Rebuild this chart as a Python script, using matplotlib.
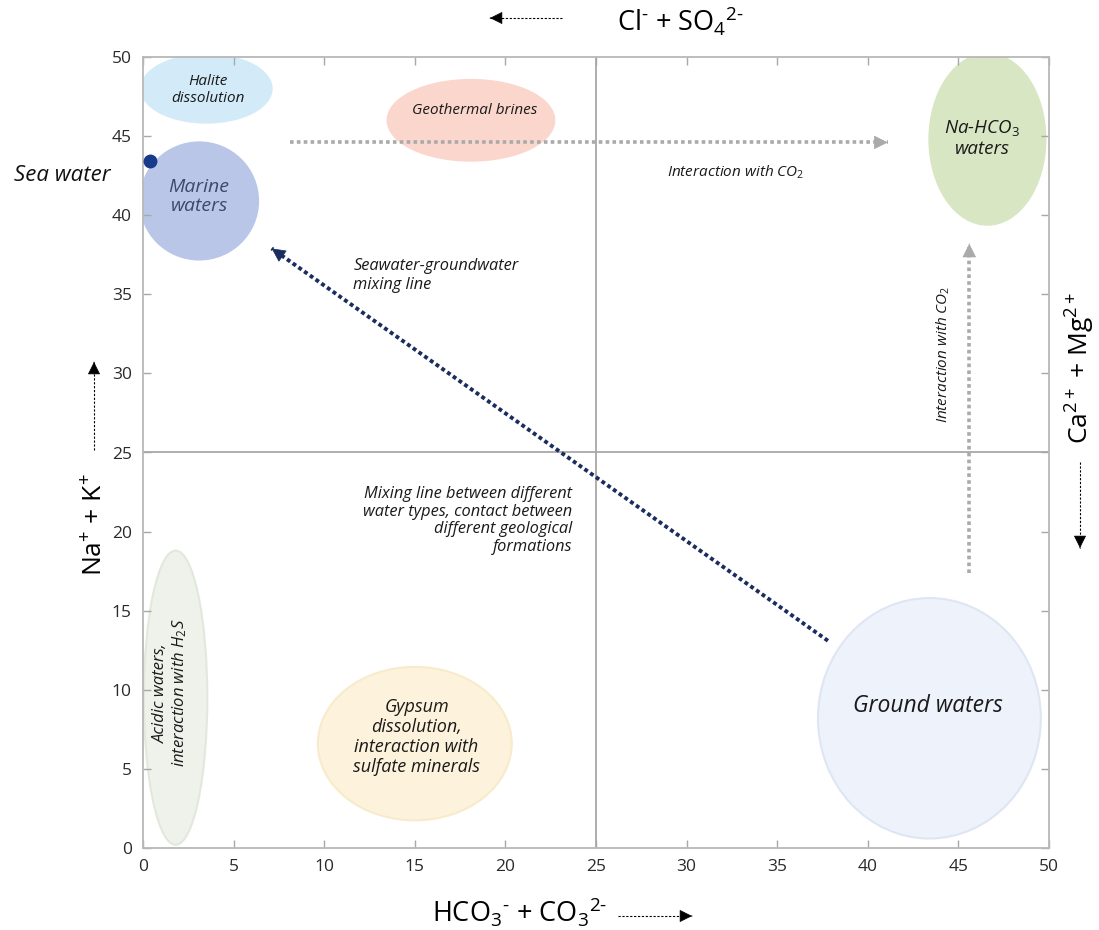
import matplotlib
matplotlib.use("Agg")
import matplotlib.pyplot as plt
from matplotlib.patches import Ellipse
from matplotlib.lines import Line2D

plt.rcParams['font.family'] = ['Open Sans', 'DejaVu Sans']
plt.rcParams['mathtext.fontset'] = 'custom'
plt.rcParams['mathtext.rm'] = 'Open Sans'
plt.rcParams['mathtext.it'] = 'Open Sans:italic'

W, H = 1099, 930

# water-type fields: centre (x, y), width, height
field_names = ["halite", "marine", "geothermal", "nahco3", "ground", "gypsum", "acidic"]
field_x = [3.5, 3.1, 18.1, 46.6, 43.4, 15.0, 1.8]
field_y = [48.0, 40.9, 46.0, 44.8, 8.2, 6.6, 9.5]
field_w = [7.2, 6.5, 9.2, 6.4, 12.3, 10.7, 3.5]
field_h = [4.3, 7.4, 5.1, 10.8, 15.2, 9.7, 18.6]
field_colors = ["#d3eaf8", "#b9c6e8", "#fad6cc", "#d8e6c3", "#edf2fb", "#fdf2dc", "#eef2ea"]
field_edges = ["#d3eaf8", "#b9c6e8", "#fad6cc", "#d8e6c3", "#dfe6f3", "#f8ebcc", "#e3e8dd"]

# sea water end-member
sea_x, sea_y = 0.4, 43.4

# trend arrows: (x0, x1), (y0, y1)
co2_h = ([8.1, 41.1], [44.6, 44.6])
co2_v = ([45.6, 45.6], [17.4, 38.2])
mixing = ([37.8, 7.1], [13.1, 37.9])

ticks = [0, 5, 10, 15, 20, 25, 30, 35, 40, 45, 50]


def dotted_arrow(ax, xs, ys, color, lw, dash, fig_coords=False, hl=0.9, hw=0.45):
    # shaft drawn with a dash pattern, head drawn as a separate solid wedge
    if fig_coords:
        xs = [v / W for v in xs]
        ys = [v / H for v in ys]
        trans, coords = ax.figure.transFigure, 'figure fraction'
        ax.figure.add_artist(Line2D(xs, ys, transform=trans, color=color, lw=lw, linestyle=dash))
    else:
        coords = 'data'
        ax.plot(xs, ys, color=color, lw=lw, linestyle=dash, zorder=3)
    tx = xs[1] - (xs[1] - xs[0]) * 0.001
    ty = ys[1] - (ys[1] - ys[0]) * 0.001
    ax.annotate('', xy=(xs[1], ys[1]), xytext=(tx, ty),
                xycoords=coords, textcoords=coords, annotation_clip=False,
                arrowprops=dict(arrowstyle=f'-|>,head_length={hl},head_width={hw}',
                                lw=0.5, color=color, shrinkA=0, shrinkB=0))


fig = plt.figure(figsize=(W / 100, H / 100), dpi=100)
ax = fig.add_axes([143 / W, 82 / H, 906 / W, 791 / H])

for x, y, w, h, fc, ec in zip(field_x, field_y, field_w, field_h, field_colors, field_edges):
    ax.add_patch(Ellipse((x, y), w, h, facecolor=fc, edgecolor=ec, lw=1.5, zorder=1))

ax.axvline(25, color='#a8a8a8', lw=1.3, zorder=0.5)
ax.axhline(25, color='#a8a8a8', lw=1.3, zorder=0.5)

ax.plot([sea_x], [sea_y], 'o', color='#173a8c', ms=9, zorder=5, clip_on=False)

dotted_arrow(ax, *co2_h, color='#aaaaaa', lw=2.6, dash=(0, (1, 0.9)))
dotted_arrow(ax, *co2_v, color='#aaaaaa', lw=2.6, dash=(0, (1, 0.9)))
dotted_arrow(ax, *mixing, color='#1b2d5e', lw=2.8, dash=(0, (1, 0.8)))

it = dict(style='italic', color='#1a1a1a')
ax.text(3.6, 47.9, "Halite\ndissolution", ha='center', va='center', fontsize=11, linespacing=1.2, **it)
ax.text(3.1, 41.2, "Marine\nwaters", ha='center', va='center', fontsize=14, linespacing=1.1,
        style='italic', color='#3b4a6b')
ax.text(18.3, 46.6, "Geothermal brines", ha='center', va='center', fontsize=11, **it)
ax.text(32.7, 42.7, "Interaction with CO$_2$", ha='center', va='center', fontsize=11, **it)
ax.text(46.3, 44.9, "Na-HCO$_3$\nwaters", ha='center', va='center', fontsize=13.5, linespacing=1.15, **it)
ax.text(11.6, 36.2, "Seawater-groundwater\nmixing line", ha='left', va='center', fontsize=11.8,
        linespacing=1.2, **it)
ax.text(44.15, 31.2, "Interaction with CO$_2$", ha='center', va='center', rotation=90,
        fontsize=11, **it)
ax.text(23.7, 20.7, "Mixing line between different\nwater types, contact between\n"
        "different geological\nformations", ha='right', va='center', fontsize=11.8,
        linespacing=1.15, multialignment='right', **it)
ax.text(43.3, 9.0, "Ground waters", ha='center', va='center', fontsize=16.5, **it)
ax.text(15.1, 7.0, "Gypsum\ndissolution,\ninteraction with\nsulfate minerals", ha='center',
        va='center', fontsize=13, linespacing=1.15, **it)
ax.text(1.55, 9.8, "Acidic waters,\ninteraction with H$_2$S", ha='center', va='center',
        rotation=90, fontsize=12, linespacing=1.1, **it)

ax.set_xlim(0, 50)
ax.set_ylim(0, 50)
ax.set_xticks(ticks)
ax.set_yticks(ticks)
ax.tick_params(direction='in', length=6, width=1, color='#a8a8a8', labelsize=12.5,
               labelcolor='#2a2a2a', top=True, right=True, pad=8)
for s in ax.spines.values():
    s.set_color('#b8b8b8')
    s.set_linewidth(1.3)

# axis titles with their direction arrows
fig.text(62 / W, 1 - 175 / H, "Sea water", ha='center', va='center', fontsize=16,
         style='italic', color='#111111')
fig.text(520 / W, 1 - 912 / H, r"HCO$_3$$^{\text{-}}$ + CO$_3$$^{2\text{-}}$", ha='center',
         va='center', fontsize=19.5)
fig.text(680 / W, 1 - 21 / H, r"Cl$^{\text{-}}$ + SO$_4$$^{2\text{-}}$", ha='center', va='center',
         fontsize=19.5)
fig.text(96 / W, 1 - 525 / H, r"Na$^{+}$ + K$^{+}$", ha='center', va='center', fontsize=19,
         rotation=90)
fig.text(1080 / W, 1 - 368 / H, r"Ca$^{2+}$ + Mg$^{2+}$", ha='center', va='center', fontsize=19,
         rotation=90)

black_dash = (0, (2, 1.5))
dotted_arrow(ax, [618, 692], [14, 14], color='black', lw=0.8, dash=black_dash,
             fig_coords=True, hl=0.8, hw=0.4)
dotted_arrow(ax, [562, 490], [912, 912], color='black', lw=0.8, dash=black_dash,
             fig_coords=True, hl=0.8, hw=0.4)
dotted_arrow(ax, [94, 94], [480, 568], color='black', lw=0.8, dash=black_dash,
             fig_coords=True, hl=0.8, hw=0.4)
dotted_arrow(ax, [1080, 1080], [468, 382], color='black', lw=0.8, dash=black_dash,
             fig_coords=True, hl=0.8, hw=0.4)

fig.savefig("out.png", dpi=100)
